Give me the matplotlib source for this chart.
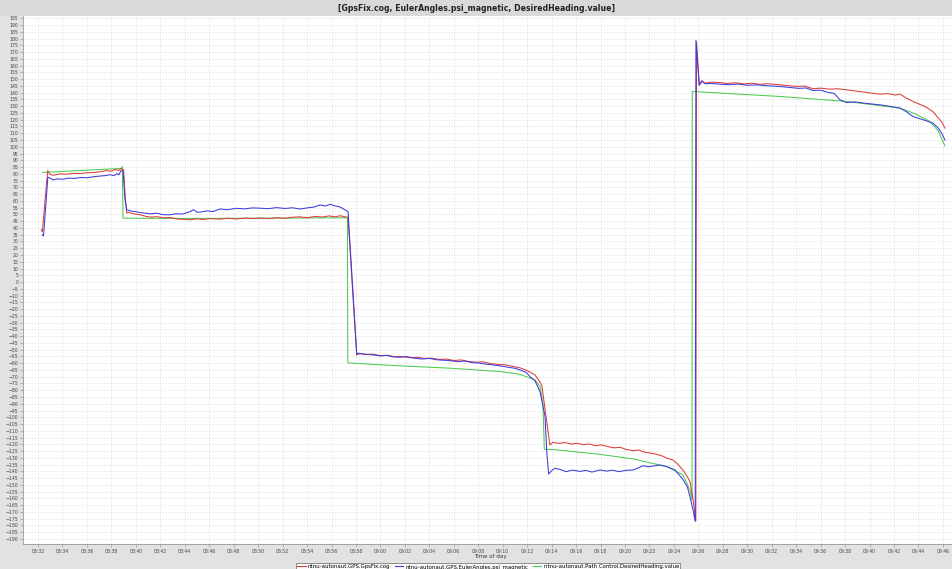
import matplotlib
matplotlib.use("Agg")
import matplotlib.pyplot as plt
import matplotlib.dates as mdates
import numpy as np
import pandas as pd
from matplotlib.patches import Rectangle

# ---- data: time in minutes after 08:00, values in degrees ----
red_t = [32.27, 32.35, 32.79, 32.98, 33.3, 33.8, 34.3, 34.8, 35.4, 36.0, 36.6, 37.1, 37.6, 38.0, 38.3,
         38.6, 38.8, 39.0, 39.15, 39.25,
         39.4, 39.8, 40.34, 40.8, 41.2, 41.7, 42.3, 42.8, 43.4, 44.0, 44.4, 45.0, 45.5, 46.0, 46.9,
         47.5, 48.2, 49.0, 49.6, 50.2, 50.9, 51.5, 52.2, 52.8, 53.4, 54.0, 54.7, 55.2, 55.8, 56.3,
         56.7, 57.1, 57.35,
         58.06, 58.3, 58.8, 59.4, 60.0, 60.6, 61.2, 61.8, 62.4, 63.0, 63.6, 64.2, 64.8, 65.4, 66.0,
         66.6, 67.2, 67.8, 68.4, 69.0, 69.6, 70.2, 70.8, 71.4, 72.0, 72.64, 73.05, 73.21, 73.54, 73.86,
         74.11, 74.6, 75.1, 75.6, 76.1, 76.6, 77.1, 77.6, 78.1, 78.6, 79.1, 79.6, 80.1, 80.65, 81.1,
         81.6, 82.1, 82.6, 83.1, 83.43, 83.9, 84.3, 84.74, 85.1, 85.31, 85.55, 85.79, 85.85,
         86.07, 86.29, 86.5, 87.0, 87.76, 88.3, 89.0, 89.7, 90.4, 91.0, 91.7, 92.67, 93.3, 94.0, 94.7,
         95.37, 96.0, 96.7, 97.4, 98.12, 98.8, 99.5, 100.2, 100.85, 101.5, 102.1, 102.48, 103.0,
         103.55, 104.2, 104.6, 105.18, 105.6, 105.9, 106.16]
red_v = [38.6, 37.0, 82.4, 79.5, 79.0, 80.0, 79.7, 80.3, 80.2, 80.8, 81.0, 81.5, 82.4, 82.0, 83.2,
         82.5, 84.0, 83.0, 60.0, 51.0,
         51.5, 50.5, 49.7, 48.6, 48.0, 48.3, 47.5, 47.7, 46.6, 46.3, 46.0, 46.8, 46.2, 46.9, 46.5,
         47.2, 46.6, 47.3, 46.9, 47.4, 46.8, 47.6, 47.1, 47.9, 48.2, 47.6, 48.5, 48.0, 48.9, 48.2,
         49.0, 48.3, 47.8,
         -53.9, -53.0, -53.6, -53.3, -54.5, -54.2, -55.3, -55.0, -56.0, -55.6, -56.5, -56.3, -57.2,
         -57.0, -58.0, -57.6, -58.7, -59.3, -59.0, -60.3, -60.9, -61.2, -62.3, -63.4, -65.5, -68.7,
         -74.0, -77.0, -99.5, -120.5,
         -118.5, -119.3, -118.7, -119.8, -119.2, -120.3, -119.8, -121.0, -120.4, -121.7, -122.6,
         -122.2, -123.8, -124.7, -124.2, -125.8, -126.5, -127.4, -128.8, -130.3, -131.5, -134.5,
         -139.0, -144.0, -147.6, -160.0, -176.7, 177.5,
         145.8, 148.8, 147.0, 147.8, 147.5, 146.8, 147.3, 146.5, 147.0, 146.2, 146.6, 145.8, 145.3,
         144.6, 144.9, 142.9, 143.4, 142.6, 142.9, 142.1, 141.3, 140.5, 139.6, 138.9, 139.3, 138.2,
         139.0, 136.0, 133.5, 131.0, 129.5, 126.0, 121.5, 118.5, 113.8]

blue_t = [32.35, 32.45, 32.8, 33.0, 33.23, 33.6, 34.0, 34.5, 35.0, 35.5, 36.0, 36.5, 37.0, 37.5,
          37.9, 38.2, 38.46, 38.6, 38.8, 38.95, 39.1, 39.25,
          39.6, 40.0, 40.34, 40.8, 41.16, 41.7, 42.2, 42.79, 43.3, 43.8, 44.43, 44.7, 45.0, 45.25,
          45.8, 46.3, 46.88, 47.5, 48.2, 48.9, 49.5, 50.15, 50.8, 51.5, 52.2, 52.8, 53.42, 54.0,
          54.6, 55.06, 55.5, 55.9, 56.28, 56.69, 57.1, 57.35,
          58.06, 58.17, 58.7, 59.3, 59.96, 60.5, 61.0, 61.6, 62.2, 62.8, 63.4, 64.0, 64.6, 65.2,
          65.69, 66.3, 66.9, 67.5, 68.14, 68.7, 69.2, 69.78, 70.4, 71.0, 71.41, 71.9, 72.23, 72.64,
          73.05, 73.46, 73.6, 73.75, 74.0, 74.27, 74.7, 75.2, 75.7, 76.32, 76.8, 77.3, 77.95, 78.5,
          79.0, 79.5, 80.1, 80.65, 81.1, 81.47, 81.9, 82.4, 82.86, 83.43, 84.09, 84.74, 85.1, 85.31,
          85.55, 85.74, 85.80,
          86.07, 86.29, 86.6, 87.0, 87.76, 88.5, 89.3, 90.0, 90.8, 91.6, 92.67, 93.4, 94.2, 94.8,
          95.37, 96.0, 96.6, 97.1, 97.58, 98.12, 98.8, 99.5, 100.2, 100.85, 101.5, 102.0, 102.48,
          103.0, 103.55, 104.2, 104.6, 105.18, 105.6, 105.9, 106.16]
blue_v = [35.0, 34.0, 77.5, 76.8, 75.5, 76.3, 76.0, 76.8, 76.6, 77.3, 77.1, 77.8, 78.3, 78.7,
          79.4, 78.6, 80.2, 79.2, 82.5, 82.0, 62.0, 53.4,
          52.5, 52.0, 51.4, 50.8, 50.4, 50.9, 49.8, 49.7, 50.5, 50.2, 52.0, 53.5, 51.7, 51.7,
          52.6, 52.1, 54.0, 53.5, 54.5, 54.1, 54.8, 54.6, 54.2, 55.0, 54.4, 54.9, 54.0, 54.8,
          55.5, 57.0, 56.2, 57.5, 56.3, 55.5, 53.4, 52.0,
          -53.5, -52.6, -53.3, -53.8, -54.6, -54.2, -55.3, -55.6, -55.2, -56.4, -56.9, -56.5,
          -57.5, -57.8, -58.1, -58.9, -58.4, -59.6, -60.0, -60.8, -61.3, -62.0, -62.9, -63.8,
          -65.0, -66.8, -69.9, -73.0, -81.0, -99.5, -125.0, -142.0, -139.5, -137.7, -138.6,
          -140.2, -139.1, -140.0, -139.3, -140.5, -139.0, -139.8, -139.1, -140.2, -139.2, -139.0,
          -137.4, -135.8, -136.6, -135.9, -135.3, -136.5, -139.0, -146.0, -151.5, -158.7, -168.0,
          -177.0, 178.6,
          145.5, 148.5, 146.5, 146.8, 146.3, 145.9, 146.4, 145.5, 145.8, 145.1, 144.6, 143.9,
          143.2, 143.5, 141.6, 141.9, 140.2, 139.5, 134.7, 132.7, 133.2, 132.3, 131.6, 131.0,
          130.2, 129.4, 128.6, 126.0, 122.4, 120.5, 119.3, 117.5, 114.0, 110.0, 105.0]

green_t = [32.35, 38.8, 38.89, 38.95, 45.0, 57.3, 57.33, 61.6, 65.7, 69.8, 71.4, 72.64, 73.05,
           73.29, 73.40, 74.27, 77.95, 80.65, 83.43, 84.74, 85.31, 85.48, 85.50, 92.67, 98.12,
           102.48, 103.7, 104.94, 105.6, 106.16]
green_v = [81.0, 84.0, 85.5, 47.2, 47.0, 47.5, -59.8, -62.0, -63.7, -66.2, -68.2, -72.4, -77.3,
           -89.6, -123.6, -124.0, -127.4, -130.8, -136.5, -142.6, -153.7, -161.0, 140.9, 137.2,
           133.5, 128.6, 124.5, 118.7, 112.0, 100.7]

series_names = ["ntnu-autonaut.GPS.GpsFix.cog",
                "ntnu-autonaut.GPS.EulerAngles.psi_magnetic",
                "ntnu-autonaut.Path Control.DesiredHeading.value"]
title_text = "[GpsFix.cog, EulerAngles.psi_magnetic, DesiredHeading.value]"
y_ticks = list(range(-190, 200, 5))

base = pd.Timestamp("2020-01-01 08:00:00")
def to_dt(t):
    return (base + pd.to_timedelta(np.asarray(t), unit="m")).to_pydatetime()

fig = plt.figure(figsize=(9.53, 5.69), dpi=100, facecolor="#e2e2e2")
ax = fig.add_axes([23/953, 1 - 544/569, 929/953, 528/569])
ax.set_facecolor("white")

fig.patches.append(Rectangle((0, 1 - 16/569), 1, 16/569, transform=fig.transFigure,
                             facecolor="#d9d9d9", edgecolor="none", zorder=0))
fig.text(0.5, 1 - 8/569, title_text, ha="center", va="center", fontsize=5.6,
         fontweight="bold", color="#222222")

cols = ["#dd3b3b", "#3b3bdd", "#4ccc4c"]
ax.plot(to_dt(green_t), green_v, color=cols[2], lw=0.75, label=series_names[2], zorder=2)
ax.plot(to_dt(red_t), red_v, color=cols[0], lw=0.75, label=series_names[0], zorder=3)
ax.plot(to_dt(blue_t), blue_v, color=cols[1], lw=0.75, label=series_names[1], zorder=4)

ax.set_xlim(to_dt([30.77])[0], to_dt([106.74])[0])
ax.set_ylim(-193.7, 196.7)
ax.set_yticks(y_ticks)
ax.xaxis.set_major_locator(mdates.MinuteLocator(byminute=range(0, 60, 2)))
ax.xaxis.set_major_formatter(mdates.DateFormatter("%H:%M"))
ax.tick_params(axis="both", labelsize=3.3, length=2, width=0.4, color="#888888",
               labelcolor="#444444", pad=1.5)
ax.grid(True, color="#dcdcdc", lw=0.5, ls=(0, (2, 2)))
ax.set_axisbelow(True)
for s in ["top", "right"]:
    ax.spines[s].set_visible(False)
for s in ["left", "bottom"]:
    ax.spines[s].set_color("#999999")
    ax.spines[s].set_linewidth(0.6)

fig.text(0.515, 1 - 556.5/569, "Time of day", ha="center", va="center", fontsize=4.0,
         color="#333333")

handles = [ax.lines[1], ax.lines[2], ax.lines[0]]
leg = fig.legend(handles, series_names, loc="lower center", bbox_to_anchor=(0.512, -4.5/569),
                 ncol=3, fontsize=3.9, frameon=True, fancybox=False, handlelength=1.6,
                 handletextpad=0.4, columnspacing=0.8, borderpad=0.2)
leg.get_frame().set_edgecolor("#444444")
leg.get_frame().set_linewidth(0.5)
leg.get_frame().set_facecolor("white")

fig.savefig("out.png", dpi=100, facecolor=fig.get_facecolor())
